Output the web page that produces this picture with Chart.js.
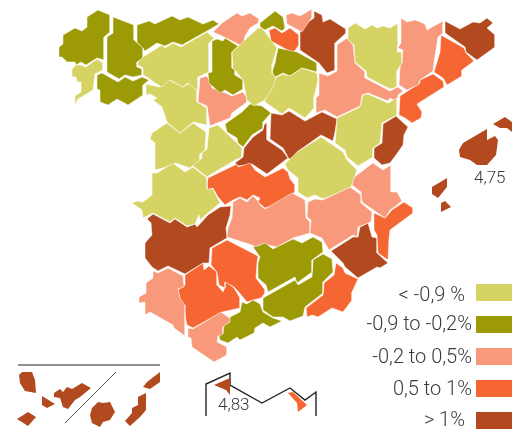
<!DOCTYPE html>
<html>
<head>
<meta charset="utf-8">
<script src="https://cdn.jsdelivr.net/npm/chart.js@4"></script>
<style>
  html, body { margin: 0; padding: 0; background: #fff; }
  canvas { display: block; }
</style>
</head>
<body>
<canvas id="mapa" width="512" height="430"></canvas>
<script>
const aCoruna = [[59,47],[63,44],[63,35],[75,28],[82,31],[87,27],[87,17],[98,10],[110,15],[110,32],[104,37],[104,60],[97,58],[86,65],[81,62],[76,65],[75,62],[67,62],[62,57],[59,57]];
const lugo = [[113,17],[134,25],[134,40],[143,48],[143,58],[137,62],[137,67],[142,69],[142,75],[133,77],[125,75],[119,79],[107,72],[107,37],[113,33]];
const asturias = [[137,25],[149,21],[155,24],[172,16],[180,20],[188,17],[203,24],[213,20],[219,24],[207,31],[182,45],[173,42],[165,46],[157,43],[145,51],[137,42]];
const cantabria = [[222,23],[237,13],[242,16],[250,13],[259,19],[258,23],[250,28],[245,36],[243,45],[240,45],[222,36],[213,32]];
const pontevedra = [[72,69],[76,65],[81,65],[86,67],[97,59],[103,63],[103,70],[95,74],[93,90],[78,99],[75,105],[75,96],[81,92],[81,82],[77,82],[76,77],[72,77]];
const ourense = [[97,75],[102,73],[118,82],[125,77],[133,81],[142,77],[149,80],[143,85],[143,95],[128,105],[117,99],[108,105],[100,102],[100,90],[97,89]];
const leon = [[143,57],[162,45],[165,48],[173,43],[181,47],[207,32],[214,38],[209,43],[209,72],[198,77],[198,91],[188,83],[183,87],[170,80],[162,87],[155,83],[147,77],[143,75],[143,68],[138,65],[138,62]];
const palencia = [[212,41],[217,39],[223,41],[225,38],[238,46],[232,52],[232,68],[235,70],[235,75],[243,80],[243,89],[233,95],[225,90],[220,93],[209,83],[208,73],[212,72]];
const burgos = [[233,51],[258,28],[262,28],[277,48],[272,65],[272,73],[276,78],[273,87],[265,100],[254,106],[247,100],[243,80],[233,68],[232,52]];
const rioja = [[278,48],[297,52],[317,63],[317,72],[302,68],[290,76],[283,73],[275,77],[272,72],[275,63]];
const vizcaya = [[260,23],[275,11],[283,17],[285,28],[282,31],[273,26],[265,30],[260,27]];
const gipuzkoa = [[286,15],[292,13],[300,16],[312,9],[312,17],[302,32],[287,24]];
const alava = [[269,30],[275,28],[282,33],[290,28],[299,35],[299,45],[293,53],[271,41]];
const navarra = [[314,11],[322,15],[323,22],[330,19],[346,29],[346,33],[335,43],[335,70],[327,73],[319,63],[300,50],[300,32],[308,22],[314,18]];
const zaragoza = [[347,38],[353,45],[355,63],[365,72],[365,78],[390,91],[398,87],[403,91],[398,95],[397,102],[390,98],[388,101],[368,93],[362,95],[360,106],[337,117],[325,110],[316,113],[316,98],[319,95],[319,73],[328,76],[337,71],[337,45]];
const huesca = [[348,28],[355,23],[365,29],[372,25],[377,28],[383,26],[390,28],[398,23],[398,42],[397,52],[402,52],[402,63],[397,71],[397,87],[390,89],[367,77],[366,71],[355,62],[354,45],[348,40]];
const lleida = [[401,18],[407,22],[415,20],[425,24],[427,30],[443,21],[443,33],[438,37],[434,62],[433,71],[420,80],[418,85],[407,90],[399,85],[400,68],[403,50],[398,48],[401,43]];
const girona = [[445,21],[460,29],[473,22],[480,23],[487,18],[493,23],[487,28],[495,35],[495,47],[477,60],[466,52],[465,47],[445,33]];
const barcelona = [[441,35],[464,48],[466,53],[474,61],[462,70],[462,76],[447,85],[443,78],[434,72],[440,52]];
const tarragona = [[400,96],[420,83],[420,80],[433,74],[443,81],[444,87],[417,104],[422,112],[421,118],[412,123],[405,118],[399,115]];
const teruel = [[336,133],[337,118],[360,107],[363,95],[368,94],[388,103],[397,98],[397,115],[382,123],[380,143],[373,148],[373,157],[358,166],[347,157],[345,150],[335,143]];
const castellon = [[383,124],[396,116],[408,127],[404,135],[403,145],[396,155],[390,163],[382,165],[374,158],[374,148],[382,143]];
const valencia = [[352,185],[353,178],[373,163],[383,170],[391,165],[391,192],[397,192],[402,201],[393,208],[390,210],[385,218],[362,202],[361,192]];
const alicante = [[404,202],[413,208],[413,213],[390,230],[389,238],[388,260],[378,253],[377,235],[374,230],[374,213],[385,218],[392,210]];
const albacete = [[308,202],[315,199],[323,200],[333,195],[350,187],[361,195],[361,203],[372,212],[371,222],[358,227],[357,237],[353,235],[329,250],[322,238],[310,233],[311,220],[307,217]];
const murcia = [[331,251],[353,237],[358,237],[360,227],[368,223],[372,237],[377,238],[377,253],[388,263],[380,268],[377,267],[358,278],[345,267],[343,263]];
const cuenca = [[321,137],[343,152],[347,160],[357,170],[351,187],[333,195],[323,199],[315,195],[307,198],[298,192],[298,178],[288,170],[285,164],[297,152]];
const guadalajara = [[271,113],[282,115],[289,111],[305,121],[322,112],[337,119],[335,132],[333,141],[321,135],[297,152],[295,158],[289,159],[283,148],[270,139]];
const soria = [[265,100],[275,78],[283,74],[290,76],[302,68],[317,73],[318,80],[314,97],[314,108],[305,118],[289,108],[282,114],[265,102]];
const segovia = [[225,124],[242,112],[250,104],[262,106],[271,113],[263,122],[263,128],[252,135],[243,147],[238,143],[237,138],[227,132]];
const valladolid = [[200,78],[207,76],[210,82],[212,88],[223,92],[232,96],[243,92],[247,98],[247,102],[232,113],[230,118],[217,123],[210,126],[207,106],[198,102]];
const zamora = [[146,84],[160,87],[169,80],[183,87],[190,83],[197,90],[197,102],[207,108],[207,125],[193,122],[180,133],[167,122],[162,107],[153,100],[157,98],[150,94],[146,95]];
const salamanca = [[152,133],[167,123],[180,133],[193,123],[206,132],[205,150],[200,154],[200,160],[190,168],[175,163],[163,168],[155,170],[155,143],[150,139]];
const avila = [[209,128],[218,125],[237,143],[242,148],[242,157],[235,160],[210,175],[207,177],[192,165],[202,158],[202,153],[207,149]];
const madrid = [[267,122],[267,140],[282,150],[288,158],[267,174],[252,164],[238,166],[235,163],[243,157],[244,148],[253,137],[263,130],[264,125]];
const toledo = [[208,178],[237,164],[238,167],[250,163],[255,170],[265,177],[283,168],[288,172],[290,179],[295,185],[295,192],[275,205],[265,208],[258,202],[260,198],[253,195],[247,200],[240,197],[233,200],[225,205],[218,197],[213,188],[207,190],[207,183]];
const caceres = [[152,173],[157,173],[173,163],[185,172],[193,167],[207,178],[207,189],[213,189],[220,203],[208,213],[200,220],[199,215],[195,224],[187,226],[175,218],[170,222],[153,213],[143,218],[142,210],[132,203],[137,201],[143,202],[152,195]];
const badajoz = [[147,219],[153,214],[170,223],[175,219],[187,227],[195,224],[197,227],[208,215],[220,207],[231,206],[230,215],[226,228],[227,238],[210,248],[209,263],[203,263],[185,274],[168,266],[158,271],[152,267],[145,258],[145,243],[152,235],[151,223]];
const ciudadReal = [[233,202],[240,198],[247,202],[253,196],[258,201],[260,205],[265,209],[292,193],[305,200],[306,218],[310,222],[310,233],[293,238],[277,247],[263,244],[255,247],[252,245],[227,237],[228,228],[232,218]];
const jaen = [[253,247],[258,246],[265,243],[273,249],[293,239],[302,243],[313,237],[322,242],[323,252],[312,260],[312,272],[297,283],[295,277],[268,292],[266,285],[258,278],[258,263],[260,257]];
const granada = [[263,298],[295,280],[298,285],[312,277],[313,260],[323,254],[332,259],[333,272],[323,282],[323,293],[305,307],[303,316],[290,321],[283,317],[273,317],[263,310]];
const almeria = [[336,263],[343,268],[345,273],[358,279],[352,292],[352,300],[343,312],[332,308],[318,317],[312,315],[307,317],[306,308],[323,295],[324,283],[334,275]];
const malaga = [[242,302],[247,304],[253,300],[260,304],[263,312],[273,318],[282,321],[270,327],[263,323],[255,328],[254,333],[240,340],[237,337],[228,343],[220,340],[219,336],[223,334],[224,326],[230,322],[230,317],[240,312]];
const cordoba = [[212,248],[227,240],[258,256],[257,263],[256,278],[265,290],[265,293],[261,298],[253,300],[247,302],[237,290],[234,287],[225,282],[225,288],[219,285],[217,272],[211,265]];
const sevilla = [[185,275],[203,263],[204,270],[209,266],[217,272],[217,285],[223,292],[225,287],[225,281],[234,288],[240,298],[240,308],[222,312],[193,328],[187,325],[183,308],[183,305],[180,299],[178,290],[185,285]];
const huelva = [[153,271],[158,273],[168,268],[183,276],[184,287],[178,289],[180,298],[185,305],[185,336],[174,328],[173,325],[150,312],[145,315],[145,302],[139,303],[139,297],[146,293],[146,283],[153,278]];
const cadiz = [[188,328],[193,329],[221,312],[231,319],[229,323],[223,327],[223,336],[218,336],[217,342],[227,347],[227,355],[214,362],[192,347],[191,338],[188,337]];

// Islas (sin borde blanco)
const mallorca = [[459,150],[463,143],[487,129],[487,140],[495,136],[498,140],[496,155],[487,165],[477,165],[470,160],[460,157]];
const menorca = [[493,124],[505,117],[512,122],[512,132],[507,128],[500,128]];
const ibiza = [[432,187],[447,178],[447,187],[438,198],[432,194]];
const formentera = [[441,203],[445,201],[451,207],[441,212]];
const laPalma = [[19,375],[22,372],[32,372],[35,380],[36,393],[25,391],[20,383]];
const hierro = [[17,419],[28,412],[36,417],[28,426]];
const gomera = [[42,396],[55,404],[47,408],[42,405]];
const tenerife = [[54,393],[60,389],[63,392],[67,387],[72,389],[82,383],[91,388],[80,397],[75,400],[68,409],[63,407],[60,398],[54,397]];
const granCanaria = [[90,415],[92,408],[98,402],[103,403],[110,402],[115,412],[110,420],[103,422],[100,427],[92,423]];
const fuerteventura = [[125,421],[132,413],[132,408],[138,405],[138,397],[146,393],[146,410],[140,417],[130,426]];
const lanzarote = [[143,387],[147,382],[160,372],[160,382],[150,389]];
const ceuta = [[214,385],[230,378],[230,395],[226,390]];
const melilla = [[288,393],[293,392],[307,405],[298,412],[297,403]];

// Lineas del recuadro de Canarias y de Ceuta y Melilla
const lineaCanarias = [[18,365],[160,365]];
const diagonalCanarias = [[65,423],[116,372]];
const costaAfrica = [[206,416],[206,384],[230,373],[230,385],[262,403],[290,388],[305,400],[316,392],[316,416]];

// Clases de la leyenda
const clases = ["< -0,9 %", "-0,9 to -0,2%", "-0,2 to 0,5%", "0,5 to 1%", "> 1%"];
const colores = ["#d6d365", "#9c9a05", "#f7997a", "#f56633", "#b2491f"];

const provinciasPorClase = [
  [pontevedra, leon, burgos, soria, huesca, teruel, cuenca, zamora, salamanca, avila, caceres],
  [aCoruna, lugo, asturias, ourense, palencia, rioja, vizcaya, segovia, jaen, granada, malaga],
  [cantabria, gipuzkoa, zaragoza, lleida, valencia, albacete, valladolid, ciudadReal, huelva, cadiz],
  [alava, barcelona, tarragona, alicante, toledo, almeria, cordoba, sevilla],
  [navarra, girona, castellon, murcia, guadalajara, madrid, badajoz],
];
const islasPorClase = [
  [], [], [], [melilla],
  [mallorca, menorca, ibiza, formentera, laPalma, hierro, gomera, tenerife, granCanaria, fuerteventura, lanzarote, ceuta],
];

function puntos(lista, cerrar) {
  let salida = lista.map(function (p) { return { x: p[0], y: p[1] }; });
  if (cerrar) salida.push({ x: lista[0][0], y: lista[0][1] });
  return salida;
}

let datasets = [];
clases.forEach(function (c, i) {
  provinciasPorClase[i].forEach(function (p) {
    datasets.push({ data: puntos(p, true), showLine: true, fill: "shape", backgroundColor: colores[i], borderColor: "#fff", borderWidth: 0.5, pointRadius: 0, clip: false });
  });
  islasPorClase[i].forEach(function (p) {
    datasets.push({ data: puntos(p, true), showLine: true, fill: "shape", backgroundColor: colores[i], borderWidth: 0, pointRadius: 0, clip: false });
  });
});
datasets.push({ data: puntos(lineaCanarias), showLine: true, fill: false, borderColor: "#222", borderWidth: 1.2, pointRadius: 0 });
datasets.push({ data: puntos(diagonalCanarias), showLine: true, fill: false, borderColor: "#555", borderWidth: 1, pointRadius: 0 });
datasets.push({ data: puntos(costaAfrica), showLine: true, fill: false, borderColor: "#222", borderWidth: 1.4, pointRadius: 0 });

// Textos y leyenda, colocados con las escalas del grafico
const textosMapa = [["4,75", 474, 179], ["4,83", 218, 406]];
const ajusteTexto = [3, 0, 1, 1, 0];

const rotulos = {
  id: "rotulos",
  afterDatasetsDraw(chart) {
    const ctx = chart.ctx, sx = chart.scales.x, sy = chart.scales.y;
    ctx.save();
    ctx.textBaseline = "middle";
    ctx.fillStyle = "#3a3a3a";
    ctx.font = "300 17px Roboto";
    ctx.textAlign = "left";
    textosMapa.forEach(function (t) {
      ctx.fillText(t[0], sx.getPixelForValue(t[1]), sy.getPixelForValue(t[2]));
    });
    ctx.font = "300 20px Roboto";
    ctx.textAlign = "right";
    clases.forEach(function (c, i) {
      const y0 = sy.getPixelForValue(284 + i * 32);
      const y1 = sy.getPixelForValue(301 + i * 32);
      const x0 = sx.getPixelForValue(476);
      const x1 = sx.getPixelForValue(512);
      ctx.fillStyle = colores[i];
      ctx.fillRect(x0, y0, x1 - x0, y1 - y0);
      ctx.fillStyle = "#3a3a3a";
      const fin = (i == 0 || i == 4) ? 465 : 472;
      ctx.fillText(c, sx.getPixelForValue(fin), (y0 + y1) / 2 + ajusteTexto[i]);
    });
    ctx.restore();
  },
};

new Chart(document.getElementById("mapa").getContext("2d"), {
  type: "scatter",
  data: { datasets: datasets },
  plugins: [rotulos],
  options: {
    responsive: false,
    animation: false,
    layout: { padding: 0 },
    plugins: { legend: { display: false }, tooltip: { enabled: false } },
    scales: {
      x: { type: "linear", min: 0, max: 512, display: false },
      y: { type: "linear", min: 0, max: 430, reverse: true, display: false },
    },
  },
});
</script>
</body>
</html>
